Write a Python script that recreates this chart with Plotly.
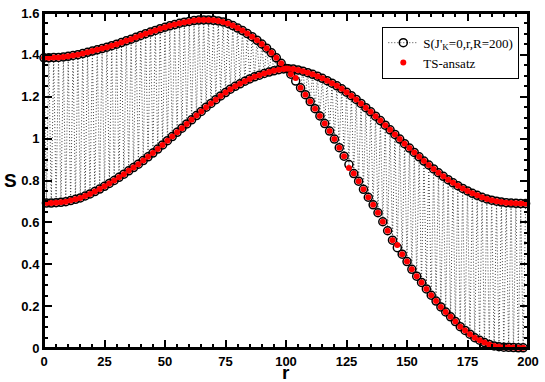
import plotly.graph_objects as go

# S(r) for the chain of length R=200, even sites (upper branch at r=0)
r_even = list(range(0, 200, 2))
s_even = [
    1.386, 1.386, 1.387, 1.388, 1.390, 1.393, 1.397, 1.401, 1.406, 1.412,
    1.418, 1.424, 1.430, 1.437, 1.444, 1.451, 1.459, 1.467, 1.475, 1.484,
    1.493, 1.501, 1.509, 1.517, 1.525, 1.532, 1.539, 1.545, 1.551, 1.556,
    1.560, 1.564, 1.566, 1.567, 1.567, 1.565, 1.562, 1.557, 1.550, 1.540,
    1.528, 1.516, 1.502, 1.487, 1.470, 1.452, 1.432, 1.410, 1.386, 1.360,
    1.335, 1.308, 1.275, 1.243, 1.210, 1.177, 1.143, 1.108, 1.072, 1.036,
    0.998, 0.957, 0.916, 0.876, 0.833, 0.797, 0.758, 0.720, 0.684, 0.646,
    0.603, 0.560, 0.515, 0.479, 0.448, 0.413, 0.376, 0.343, 0.313, 0.282,
    0.252, 0.224, 0.196, 0.172, 0.149, 0.126, 0.102, 0.084, 0.066, 0.049,
    0.037, 0.026, 0.017, 0.010, 0.006, 0.004, 0.003, 0.002, 0.001, 0.001,
]

# odd sites (lower branch)
r_odd = list(range(1, 200, 2))
s_odd = [
    0.692, 0.692, 0.694, 0.696, 0.699, 0.704, 0.710, 0.717, 0.726, 0.736,
    0.747, 0.759, 0.772, 0.786, 0.800, 0.815, 0.830, 0.846, 0.862, 0.878,
    0.895, 0.913, 0.931, 0.950, 0.970, 0.990, 1.010, 1.030, 1.050, 1.070,
    1.090, 1.110, 1.130, 1.150, 1.168, 1.186, 1.204, 1.220, 1.236, 1.250,
    1.262, 1.274, 1.285, 1.295, 1.303, 1.311, 1.318, 1.324, 1.329, 1.333,
    1.334, 1.332, 1.328, 1.322, 1.315, 1.307, 1.298, 1.288, 1.277, 1.265,
    1.252, 1.238, 1.222, 1.205, 1.187, 1.168, 1.148, 1.128, 1.107, 1.086,
    1.064, 1.042, 1.020, 0.998, 0.976, 0.955, 0.934, 0.913, 0.893, 0.874,
    0.855, 0.837, 0.820, 0.804, 0.789, 0.775, 0.762, 0.750, 0.739, 0.729,
    0.720, 0.712, 0.706, 0.701, 0.697, 0.694, 0.692, 0.691, 0.690, 0.690,
]

# TS-ansatz: same as DMRG except where the red dots visibly deviate
ts_override = {104: 1.290, 126: 0.860, 146: 0.492}

# merge both branches in r order
pts = sorted(list(zip(r_even, s_even)) + list(zip(r_odd, s_odd)))
r_all = [p[0] for p in pts]
s_all = [p[1] for p in pts]
s_ts = [ts_override.get(r, s) for r, s in pts]

fig = go.Figure()

fig.add_trace(go.Scatter(
    x=r_all, y=s_all,
    mode="lines+markers",
    name="S(J'<sub>K</sub>=0,r,R=200)",
    line=dict(color="#444444", width=1, dash="1px,2px"),
    marker=dict(symbol="circle-open", size=8, color="black", line=dict(width=1.5)),
    cliponaxis=False,
))

fig.add_trace(go.Scatter(
    x=r_all, y=s_ts,
    mode="markers",
    name="TS-ansatz",
    marker=dict(symbol="circle", size=6, color="#ff0000"),
    cliponaxis=False,
))

tickfont = dict(family="Liberation Sans", size=13, color="black", weight="bold")
axis_common = dict(
    showline=True, linecolor="black", linewidth=2, mirror="allticks",
    ticks="inside", ticklen=8, tickwidth=1.5, tickcolor="black",
    showgrid=False, zeroline=False, tickfont=tickfont,
)
title_font = dict(family="Liberation Sans", size=19, weight="bold", color="black")

fig.update_xaxes(
    range=[0, 200], tick0=0, dtick=25,
    minor=dict(ticks="inside", ticklen=4, tickwidth=1.5, tickcolor="black", dtick=5),
    **axis_common,
)
fig.update_yaxes(
    range=[0, 1.6000001], tick0=0, dtick=0.2,
    minor=dict(ticks="inside", ticklen=4, tickwidth=1.5, tickcolor="black", dtick=0.05),
    **axis_common,
)

# axis titles placed as annotations so they sit tight against the tick labels
fig.add_annotation(text="r", xref="paper", yref="paper", x=0.5, y=0,
                   yshift=-24, yanchor="middle", showarrow=False, font=title_font)
fig.add_annotation(text="S", xref="paper", yref="paper", x=0, y=0.5,
                   xshift=-34, xanchor="center", showarrow=False, font=title_font)

# plot frame
fig.add_shape(type="rect", xref="paper", yref="paper", x0=0, y0=0, x1=1, y1=1,
              line=dict(color="black", width=2), layer="above")

fig.update_layout(
    width=545, height=382,
    margin=dict(l=44, r=11, t=6, b=34),
    plot_bgcolor="white", paper_bgcolor="white",
    showlegend=True,
    legend=dict(
        x=0.982, y=0.959, xanchor="right", yanchor="top",
        bgcolor="white", bordercolor="black", borderwidth=1,
        font=dict(family="Liberation Serif", size=13, color="black"),
        tracegroupgap=0, itemwidth=30,
    ),
    hovermode=False,
)

# drop the default page margin so the figure sits at the window origin
fig.write_html(
    "out.html",
    config={"displayModeBar": False},
    post_script="document.body.style.margin='0';document.body.style.overflow='hidden';",
)
